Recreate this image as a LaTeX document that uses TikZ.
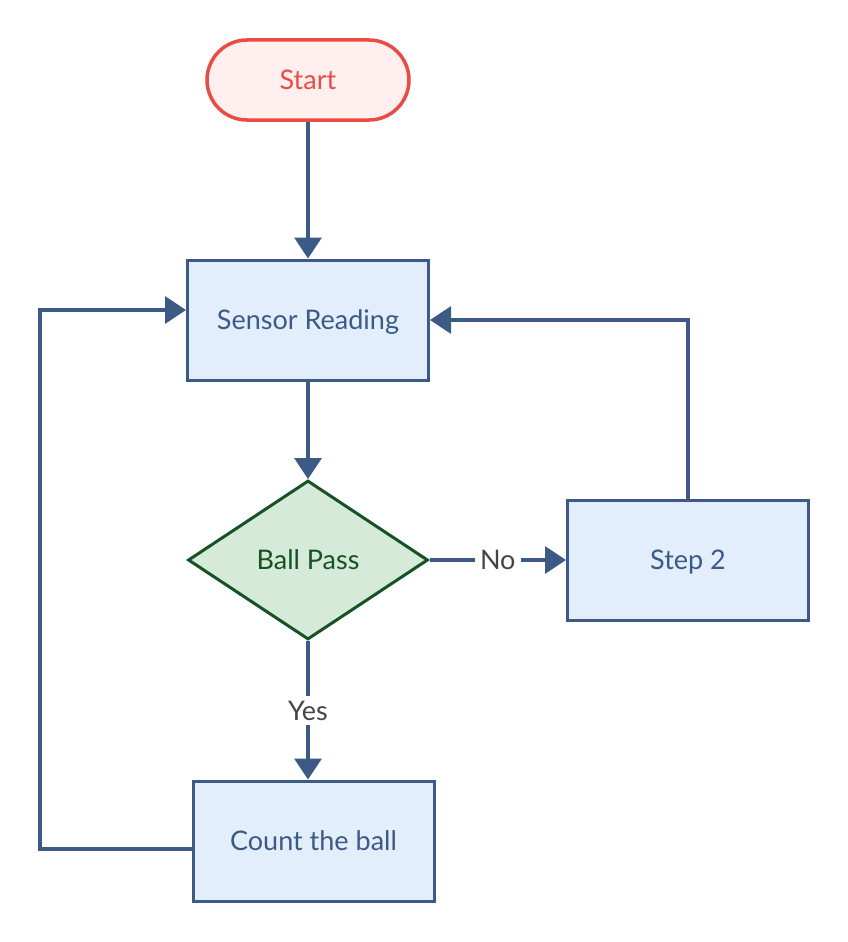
\documentclass[tikz,border=0pt]{standalone}
\usepackage{fontspec}
\setmainfont{Lato}
\usepackage{xcolor}
\usetikzlibrary{shapes,arrows,positioning,calc,arrows.meta}

\definecolor{flowblue}{HTML}{3B5A85}
\definecolor{boxfill}{HTML}{E3EEFC}
\definecolor{startred}{HTML}{E84C44}
\definecolor{startfill}{HTML}{FFF0EF}
\definecolor{passgreen}{HTML}{175224}
\definecolor{passfill}{HTML}{D5EAD8}
\definecolor{labelgrey}{HTML}{454545}

\begin{document}
\begin{tikzpicture}[x=1pt, y=-1pt, font=\fontsize{27}{32}\selectfont,
    every node/.append style={text height=19.5pt, text depth=0pt},
    line/.style={draw=flowblue, line width=3.2pt},
    arrowline/.style={line, -{Triangle[width=27pt,length=21pt]}},
    procbox/.style={draw=flowblue, fill=boxfill, line width=3pt, text=flowblue,
        minimum width=241pt, minimum height=120pt},
    startbox/.style={draw=startred, fill=startfill, line width=3.5pt, text=startred,
        rounded corners=40pt, minimum width=202pt, minimum height=80pt},
    decision/.style={diamond, draw=passgreen, fill=passfill, line width=3pt, text=passgreen,
        minimum width=240pt, minimum height=159pt, inner sep=0pt},
    answer/.style={fill=white, text=labelgrey, inner sep=5pt}]
    \useasboundingbox (0,0) rectangle (848,942);

    % Boxes
    \node [startbox] (start) at (308,80) {Start};
    \node [procbox] (sensor) at (308,320) {Sensor Reading};
    \node [decision] (pass) at (308,560) {Ball Pass};
    \node [procbox] (step2) at (688,560) {Step 2};
    \node [procbox] (count) at (313.5,841) {Count the ball};
    \coordinate (leftrail) at (40,580);

    % Main flow
    \draw [arrowline] (start) -- (sensor);
    \draw [arrowline] (sensor) -- (pass);
    \draw [arrowline] (pass) -- node[answer] {No} (step2);
    \draw [arrowline] (pass.south) -- node[answer] {Yes} (pass.south |- count.north);

    % Loops back
    \draw [arrowline] (step2.north) |- (sensor.east);
    \draw [arrowline] ([yshift=-8pt]count.west) -| (leftrail) |- ([yshift=10pt]sensor.west);
\end{tikzpicture}
\end{document}
